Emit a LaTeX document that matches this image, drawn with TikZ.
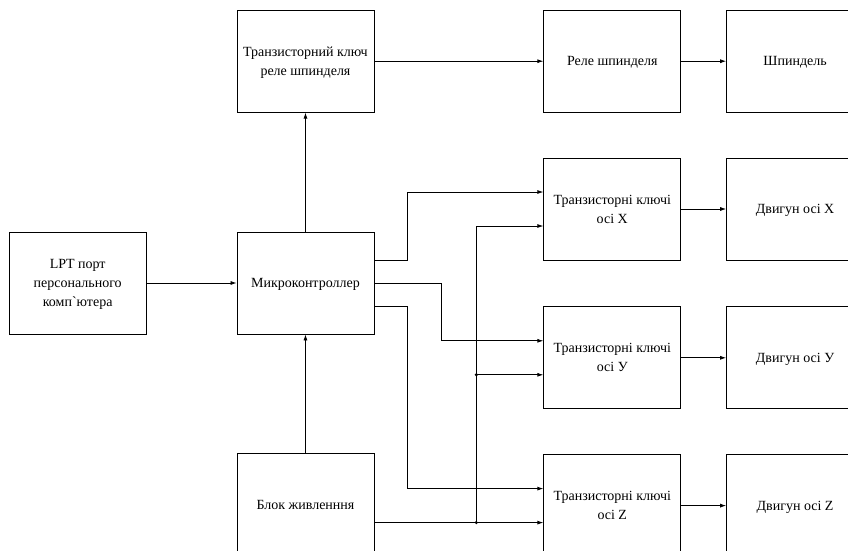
\documentclass[tikz,border=0pt]{standalone}
\usepackage{fontspec}
\setmainfont{Liberation Serif}[Ligatures=TeXOff]
\newfontfamily\blockfont{Liberation Serif}[Ligatures=TeXOff]
\usepackage{tikz}
\usetikzlibrary{arrows, arrows.meta, positioning}
\tikzstyle{block} = [rectangle, 
minimum width=102.75pt, 
minimum height=76.5pt, 
inner sep=1pt,
text centered, 
align=center,
text depth=0pt,
font=\blockfont\fontsize{10.5}{14.25}\selectfont,
line width=0.6pt,
draw=black]
\tikzstyle{arrow} = [line width=0.6pt,->,>={Latex[length=4.5pt,width=3pt]}]
\tikzstyle{junction} = [circle, fill=black, inner sep=0pt, minimum size=2.6pt]

\begin{document}
\begin{tikzpicture}[node distance=33.75pt]

        \useasboundingbox (-229.1pt,-200.25pt) rectangle (406.9pt,212.25pt);

        % --- Blocks ---
        \node (mcu) [block] at (0,0) {Микроконтроллер};
        \node (lpt) [block, left=67.5pt of mcu] {LPT порт\\персонального\\комп`ютера};
        \node (relkey) [block, above=89.25pt of mcu] {Транзисторний ключ\\реле шпинделя};
        \node (power) [block, below=89.25pt of mcu] {Блок живле{ннн}я};

        \node (relay) [block, right=126.75pt of relkey] {Реле шпинделя};
        \node (spindle) [block, right=of relay] {Шпиндель};

        \node (keyx) [block, below=of relay] {Транзисторні ключі\\осі X};
        \node (keyy) [block, below=34.5pt of keyx] {Транзисторні ключі\\осі У};
        \node (keyz) [block, below=of keyy] {Транзисторні ключі\\осі Z};

        \node (motx) [block, right=of keyx] {Двигун осі X};
        \node (moty) [block, right=of keyy] {Двигун осі У};
        \node (motz) [block, right=of keyz] {Двигун осі Z};

        % --- Ports ---
        \coordinate (mout1) at ([yshift=17.25pt]mcu.east);
        \coordinate (mout2) at (mcu.east);
        \coordinate (mout3) at ([yshift=-17.25pt]mcu.east);
        \coordinate (xin1) at ([yshift=12.75pt]keyx.west);
        \coordinate (xin2) at ([yshift=-12.75pt]keyx.west);
        \coordinate (yin1) at ([yshift=12.75pt]keyy.west);
        \coordinate (yin2) at ([yshift=-12.75pt]keyy.west);
        \coordinate (zin1) at ([yshift=12.75pt]keyz.west);
        \coordinate (zin2) at ([yshift=-12.75pt]keyz.west);
        \coordinate (pout) at (power.east |- zin2);
        \coordinate (bus) at ([xshift=76.5pt]mcu.east);
        \node (jz) [junction] at (bus |- zin2) {};
        \node (jy) [junction] at (bus |- yin2) {};

        % --- Connections ---
        \draw [arrow] (lpt) -- (mcu);
        \draw [arrow] (mcu) -- (relkey);
        \draw [arrow] (power) -- (mcu);
        \draw [arrow] (relkey) -- (relay);
        \draw [arrow] (relay) -- (spindle);

        % Control lines from the microcontroller
        \draw [arrow] (mout1) -- ++(24.75pt,0) |- (xin1);
        \draw [arrow] (mout2) -- ++(50.25pt,0) |- (yin1);
        \draw [arrow] (mout3) -- ++(24.75pt,0) |- (zin1);

        % Supply bus
        \draw [arrow] (pout) -- (zin2);
        \draw [arrow] (jz.center) |- (xin2);
        \draw [arrow] (jy.center) -- (yin2);

        \draw [arrow] (keyx) -- (motx);
        \draw [arrow] (keyy) -- (moty);
        \draw [arrow] (keyz) -- (motz);

    \end{tikzpicture}
\end{document}
